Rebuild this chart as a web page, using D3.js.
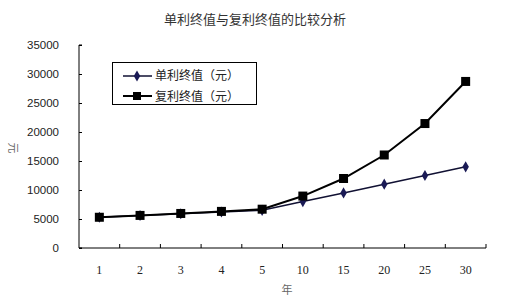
<!DOCTYPE html>
<html>
<head>
<meta charset="utf-8">
<script src="https://cdn.jsdelivr.net/npm/d3@7"></script>
<style>
  body { margin: 0; background: #fff; }
  svg { display: block; }
</style>
</head>
<body>
<svg width="508" height="300"></svg>
<script>
// years (category axis) and the two series
var years = ["1", "2", "3", "4", "5", "10", "15", "20", "25", "30"];
var simpleVals = [5300, 5600, 5900, 6200, 6500, 8000, 9500, 11000, 12500, 14000];
var compoundVals = [5300, 5618, 5955, 6312, 6691, 8954, 11983, 16036, 21459, 28717];
var yTicks = [0, 5000, 10000, 15000, 20000, 25000, 30000, 35000];
var seriesNames = ["单利终值（元）", "复利终值（元）"];

var svg = d3.select("svg");
var plotLeft = 79, plotRight = 486, plotTop = 45, plotBottom = 248;

var x = d3.scaleBand().domain(years).range([plotLeft, plotRight]);
var y = d3.scaleLinear().domain([0, 35000]).range([plotBottom, plotTop]);

var cjk = "'Noto Sans CJK SC', sans-serif";

// title
svg.append("text")
    .attr("x", 255).attr("y", 24)
    .attr("text-anchor", "middle")
    .attr("font-family", cjk)
    .attr("font-size", 13)
    .attr("fill", "#333")
    .text("单利终值与复利终值的比较分析");

// y axis
var yAxis = d3.axisRight(y).tickValues(yTicks).tickSize(3).tickFormat("");
var gy = svg.append("g").attr("transform", "translate(" + plotLeft + ",0)").call(yAxis);
gy.select(".domain").attr("d", "M3," + plotTop + "H0V" + plotBottom + "H3");
gy.selectAll("line").attr("stroke", "#000");
svg.append("g").selectAll("text").data(yTicks).enter().append("text")
    .attr("x", 59).attr("y", function(d) { return y(d) + 4; })
    .attr("text-anchor", "end")
    .attr("font-family", "'Liberation Sans', Arial, sans-serif")
    .attr("font-size", 11.5)
    .attr("fill", "#222")
    .text(function(d) { return d; });

// x axis
var edges = years.map(function(d) { return x(d); }).concat([plotRight]);
svg.append("line")
    .attr("x1", plotLeft).attr("x2", plotRight)
    .attr("y1", plotBottom).attr("y2", plotBottom)
    .attr("stroke", "#000");
svg.append("g").selectAll("line").data(edges.slice(1)).enter().append("line")
    .attr("x1", function(d) { return d; }).attr("x2", function(d) { return d; })
    .attr("y1", plotBottom).attr("y2", plotBottom - 4)
    .attr("stroke", "#000");
svg.append("g").selectAll("text").data(years).enter().append("text")
    .attr("x", function(d) { return x(d) + x.bandwidth() / 2; })
    .attr("y", 274)
    .attr("text-anchor", "middle")
    .attr("font-family", "'Liberation Serif', serif")
    .attr("font-size", 12)
    .attr("fill", "#222")
    .text(function(d) { return d; });

// axis titles
svg.append("text")
    .attr("transform", "translate(9,148) rotate(90)")
    .attr("text-anchor", "middle")
    .attr("font-family", cjk)
    .attr("font-size", 11)
    .attr("fill", "#666")
    .text("元");
svg.append("text")
    .attr("x", 287).attr("y", 294)
    .attr("text-anchor", "middle")
    .attr("font-family", cjk)
    .attr("font-size", 11)
    .attr("fill", "#666")
    .text("年");

var cx = function(d, i) { return x(years[i]) + x.bandwidth() / 2; };
var line = d3.line().x(cx).y(function(d) { return y(d); });
var diamond = d3.symbol().type(d3.symbolDiamond).size(36);

// simple series (drawn first, compound sits on top)
svg.append("path").datum(simpleVals)
    .attr("d", line).attr("fill", "none")
    .attr("stroke", "#111133").attr("stroke-width", 1.5);
svg.append("g").selectAll("path").data(simpleVals).enter().append("path")
    .attr("d", diamond)
    .attr("transform", function(d, i) { return "translate(" + cx(d, i) + "," + y(d) + ")"; })
    .attr("fill", "#1a1a55");

// compound series
svg.append("path").datum(compoundVals)
    .attr("d", line).attr("fill", "none")
    .attr("stroke", "#000").attr("stroke-width", 2);
svg.append("g").selectAll("rect").data(compoundVals).enter().append("rect")
    .attr("x", function(d, i) { return cx(d, i) - 4.5; })
    .attr("y", function(d) { return y(d) - 4.5; })
    .attr("width", 9).attr("height", 9)
    .attr("fill", "#000");

// legend
var lg = svg.append("g");
lg.append("rect")
    .attr("x", 112.5).attr("y", 62.5)
    .attr("width", 144).attr("height", 42)
    .attr("fill", "#fff").attr("stroke", "#000");
lg.append("line").attr("x1", 123).attr("x2", 152).attr("y1", 76).attr("y2", 76)
    .attr("stroke", "#111133").attr("stroke-width", 1.5);
lg.append("path").attr("d", diamond).attr("transform", "translate(137,76)").attr("fill", "#1a1a55");
lg.append("line").attr("x1", 123).attr("x2", 152).attr("y1", 96).attr("y2", 96)
    .attr("stroke", "#000").attr("stroke-width", 2);
lg.append("rect").attr("x", 133).attr("y", 92).attr("width", 8).attr("height", 8).attr("fill", "#000");
lg.selectAll("text.lbl").data(seriesNames).enter().append("text")
    .attr("class", "lbl")
    .attr("x", 155).attr("y", function(d, i) { return 80 + i * 20.5; })
    .attr("font-family", cjk)
    .attr("font-size", 12)
    .attr("fill", "#222")
    .text(function(d) { return d; });
</script>
</body>
</html>
